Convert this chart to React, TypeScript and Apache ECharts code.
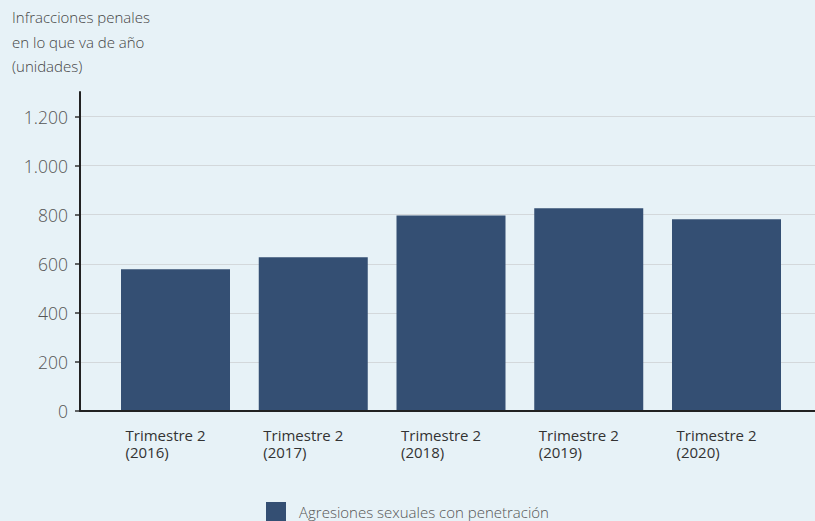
import React, { useEffect, useRef } from "react";
import * as echarts from "echarts";

const categories = [
  "Trimestre 2\n(2016)",
  "Trimestre 2\n(2017)",
  "Trimestre 2\n(2018)",
  "Trimestre 2\n(2019)",
  "Trimestre 2\n(2020)",
];
const values = [578, 627, 797, 826, 781];
const seriesName = "Agresiones sexuales con penetración";
const yMaxTick = 1200;
const yAxisTop = 1300;
const yStep = 200;
const titleLines = ["Infracciones penales", "en lo que va de año", "(unidades)"];

const X_MIN = -0.6933;
const X_MAX = 4.6425;
const labelShift = 0.363;
const catPositions = categories.map((_, i) => i);

const fmt = (v: number) => {
  const s = String(Math.round(v));
  return s.replace(/\B(?=(\d{3})+(?!\d))/g, ".");
};

export default function App() {
  const ref = useRef<HTMLDivElement>(null);
  useEffect(() => {
    document.body.style.margin = "0";
    if (!ref.current) return;
    const chart = echarts.init(ref.current, null, { renderer: "svg" });
    const font = "'Open Sans', sans-serif";
    const gridTop = 92;
    const gridBottom = 110;
    const plotH = 521 - gridTop - gridBottom;
    const innerTop = gridTop + plotH * (1 - yMaxTick / yAxisTop);
    chart.setOption({
      animation: false,
      backgroundColor: "#e7f2f7",
      textStyle: { fontFamily: font },
      graphic: [
        {
          type: "text",
          left: 12,
          top: 5,
          style: {
            text: titleLines.join("\n"),
            fontFamily: font,
            fontSize: 15,
            fontWeight: 300,
            lineHeight: 24.5,
            fill: "#444",
          },
        },
      ],
      legend: {
        data: [seriesName],
        bottom: -5,
        left: "center",
        itemWidth: 20,
        itemHeight: 19,
        itemGap: 13,
        icon: "rect",
        textStyle: {
          fontFamily: font,
          fontSize: 15,
          fontWeight: 300,
          color: "#555",
          padding: [0, 0, 0, 8],
        },
      },
      grid: [
        { left: 80, right: 0, top: gridTop, bottom: gridBottom, containLabel: false },
        { left: 80, right: 0, top: innerTop, bottom: gridBottom, containLabel: false },
      ],
      xAxis: [
        {
          type: "value",
          gridIndex: 0,
          min: X_MIN,
          max: X_MAX,
          z: 3,
          axisLine: { show: true, lineStyle: { color: "#222", width: 2 } },
          axisTick: { show: false },
          splitLine: { show: false },
          axisLabel: {
            customValues: catPositions.map((p) => p - labelShift),
            formatter: (v: number) => categories[Math.round(v + labelShift)] ?? "",
            fontFamily: font,
            fontSize: 15,
            color: "#333",
            lineHeight: 17.5,
            margin: 15,
            align: "left",
            showMinLabel: true,
            showMaxLabel: true,
          },
        },
        {
          type: "value",
          gridIndex: 1,
          min: X_MIN,
          max: X_MAX,
          show: false,
        },
      ],
      yAxis: [
        {
          type: "value",
          gridIndex: 0,
          min: 0,
          max: yAxisTop,
          z: 3,
          axisLine: { show: true, onZero: false, lineStyle: { color: "#222", width: 2 } },
          axisTick: { show: false },
          splitLine: { show: false },
          axisLabel: { show: false },
        },
        {
          type: "value",
          gridIndex: 1,
          min: 0,
          max: yMaxTick,
          interval: yStep,
          axisLine: { show: false, onZero: false },
          axisTick: { show: true, length: 5, lineStyle: { color: "#333", width: 1.5 } },
          splitLine: { show: true, lineStyle: { color: "#d3d8db", width: 1 } },
          axisLabel: {
            formatter: (v: number) => fmt(v),
            fontFamily: font,
            fontSize: 17.5,
            fontWeight: 300,
            color: "#555",
            margin: 12,
          },
        },
      ],
      series: [
        {
          name: seriesName,
          type: "bar",
          xAxisIndex: 0,
          yAxisIndex: 0,
          barWidth: 109,
          itemStyle: { color: "#344f73" },
          data: values.map((v, i) => [i, v]),
        },
      ],
    });
    return () => chart.dispose();
  }, []);
  return <div ref={ref} style={{ width: 815, height: 521 }} />;
}
